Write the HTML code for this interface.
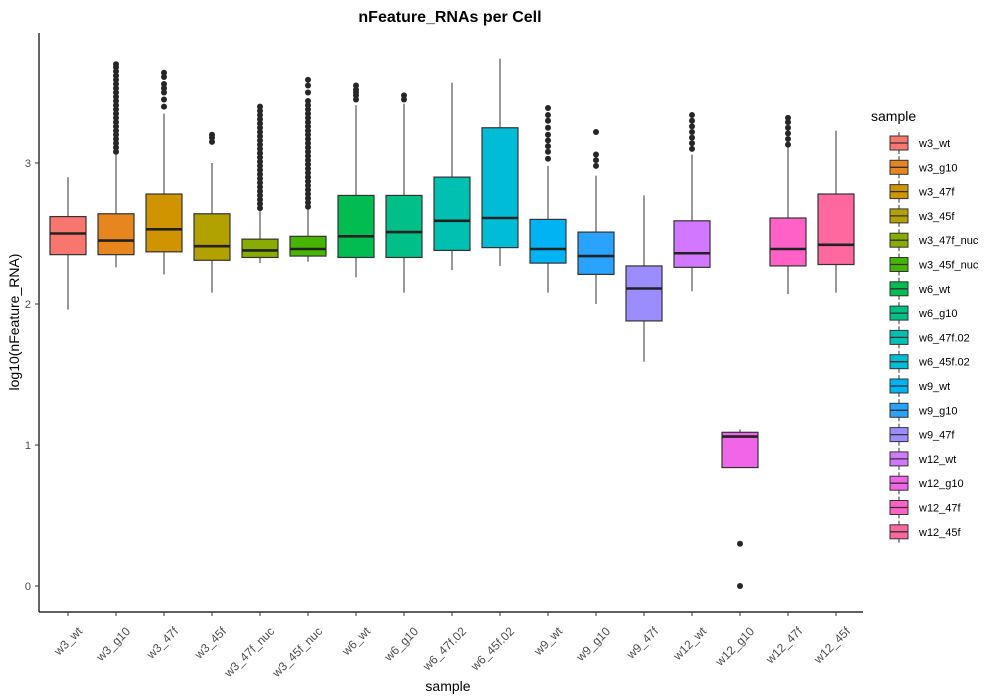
<!DOCTYPE html>
<html><head><meta charset="utf-8"><style>
html,body{margin:0;padding:0;background:#fff;}
svg{display:block;font-family:"Liberation Sans",Arial,sans-serif;}
</style></head><body>
<svg id="chart" width="1000" height="700" viewBox="0 0 1000 700">
<text x="450" y="22" text-anchor="middle" font-size="16" font-weight="bold" fill="#000">nFeature_RNAs per Cell</text>
<g id="plot"></g>
<g id="legend"></g>
<text x="448" y="691" text-anchor="middle" font-size="14" fill="#000">sample</text>
<text transform="translate(19,322) rotate(-90)" text-anchor="middle" font-size="14" fill="#000">log10(nFeature_RNA)</text>
</svg>
<script>
const categories=["w3_wt","w3_g10","w3_47f","w3_45f","w3_47f_nuc","w3_45f_nuc","w6_wt","w6_g10","w6_47f.02","w6_45f.02","w9_wt","w9_g10","w9_47f","w12_wt","w12_g10","w12_47f","w12_45f"];
const whiskerLow=[1.96,2.26,2.21,2.08,2.29,2.30,2.19,2.08,2.24,2.27,2.08,2.00,1.59,2.09,0.84,2.07,2.08];
const q1=[2.35,2.35,2.37,2.31,2.33,2.34,2.33,2.33,2.38,2.40,2.29,2.21,1.88,2.26,0.84,2.27,2.28];
const medians=[2.50,2.45,2.53,2.41,2.38,2.39,2.48,2.51,2.59,2.61,2.39,2.34,2.11,2.36,1.06,2.39,2.42];
const q3=[2.62,2.64,2.78,2.64,2.46,2.48,2.77,2.77,2.90,3.25,2.60,2.51,2.27,2.59,1.09,2.61,2.78];
const whiskerHigh=[2.90,3.07,3.35,3.00,2.67,2.68,3.41,3.42,3.57,3.74,2.98,2.91,2.77,3.06,1.11,3.12,3.23];
const outliers=[
 [],
 [3.08,3.11,3.14,3.17,3.20,3.23,3.26,3.29,3.32,3.35,3.38,3.41,3.44,3.47,3.50,3.53,3.56,3.59,3.62,3.65,3.68,3.70],
 [3.40,3.45,3.50,3.53,3.56,3.61,3.64],
 [3.15,3.18,3.20],
 [2.68,2.71,2.74,2.77,2.80,2.83,2.86,2.89,2.92,2.95,2.98,3.01,3.04,3.07,3.10,3.13,3.16,3.19,3.22,3.25,3.28,3.31,3.34,3.37,3.40],
 [2.69,2.72,2.75,2.78,2.81,2.84,2.87,2.90,2.93,2.96,2.99,3.02,3.05,3.08,3.11,3.14,3.17,3.20,3.23,3.26,3.29,3.32,3.35,3.38,3.41,3.44,3.50,3.55,3.59],
 [3.45,3.48,3.50,3.52,3.55],
 [3.45,3.48],
 [],
 [],
 [3.03,3.08,3.12,3.16,3.20,3.25,3.30,3.34,3.39],
 [2.98,3.02,3.06,3.22],
 [],
 [3.10,3.14,3.18,3.22,3.26,3.30,3.34],
 [0.30,0.00],
 [3.13,3.17,3.21,3.25,3.29,3.32],
 []
];
const colors=["#F8766D","#E7851E","#D09400","#B2A100","#89AC00","#45B500","#00BC51","#00C087","#00C0B2","#00BCD6","#00B3F2","#29A3FF","#9C8DFF","#D277FF","#F166E8","#FF61C7","#FF689E"];
const yTicks=[0,1,2,3];

const NS="http://www.w3.org/2000/svg";
const X0=68,DX=48,Y0=586,PXU=141,BW=36;
const xs=i=>X0+i*DX;
const ys=v=>Y0-v*PXU;
function mk(tag,attrs,parent){const e=document.createElementNS(NS,tag);for(const k in attrs)e.setAttribute(k,attrs[k]);parent.appendChild(e);return e;}
const plot=document.getElementById('plot');
let ax=mk('line',{x1:39,y1:33,x2:39,y2:612,stroke:'#000','stroke-width':1.2},plot);


let bx=mk('line',{x1:39,y1:612,x2:863,y2:612,stroke:'#000','stroke-width':1.2},plot);


yTicks.forEach(t=>{
 const tk=mk('line',{x1:35,x2:39,y1:ys(t),y2:ys(t),stroke:'#333'},plot);
 
 
 const tl=mk('text',{x:31,y:ys(t)+4,'text-anchor':'end','font-size':11,fill:'#4d4d4d'},plot);
 tl.textContent=t;
 
 
});
categories.forEach((c,i)=>{
 const x=xs(i);
 const g=mk('g',{},plot);
 
 
 mk('line',{x1:x,x2:x,y1:ys(whiskerHigh[i]),y2:ys(q3[i]),stroke:'#333','stroke-width':1},g);
 mk('line',{x1:x,x2:x,y1:ys(q1[i]),y2:ys(whiskerLow[i]),stroke:'#333','stroke-width':1},g);
 mk('rect',{x:x-BW/2,y:ys(q3[i]),width:BW,height:Math.max(0.5,ys(q1[i])-ys(q3[i])),fill:colors[i],stroke:'#333','stroke-width':1.2},g);
 mk('line',{x1:x-BW/2,x2:x+BW/2,y1:ys(medians[i]),y2:ys(medians[i]),stroke:'#222','stroke-width':2.6},g);
 outliers[i].forEach(v=>{
  const p=mk('circle',{cx:x,cy:ys(v),r:3,fill:'#262626'},g);
  
  
 });
 const tk=mk('line',{x1:x,x2:x,y1:612,y2:616,stroke:'#333'},plot);
 
 
 const tl=mk('text',{transform:`translate(${x+15},${632}) rotate(-45)`,'text-anchor':'end','font-size':12,fill:'#4d4d4d'},plot);
 tl.textContent=c;
 
 
});
const leg=document.getElementById('legend');
const lt=mk('text',{x:871,y:121,'font-size':14,fill:'#000'},leg);
lt.textContent='sample';


categories.forEach((c,i)=>{
 const cy=143+i*24.3;
 const g=mk('g',{},leg);
 
 
 mk('line',{x1:899,x2:899,y1:cy-11,y2:cy+11,stroke:'#333'},g);
 mk('rect',{x:890,y:cy-7,width:18,height:14,fill:colors[i],stroke:'#333','stroke-width':1},g);
 mk('line',{x1:890,x2:908,y1:cy,y2:cy,stroke:'#333','stroke-width':1.3},g);
 const t=mk('text',{x:919,y:cy+4,'font-size':11,fill:'#000'},g);
 t.textContent=c;
});
</script>
</body></html>
